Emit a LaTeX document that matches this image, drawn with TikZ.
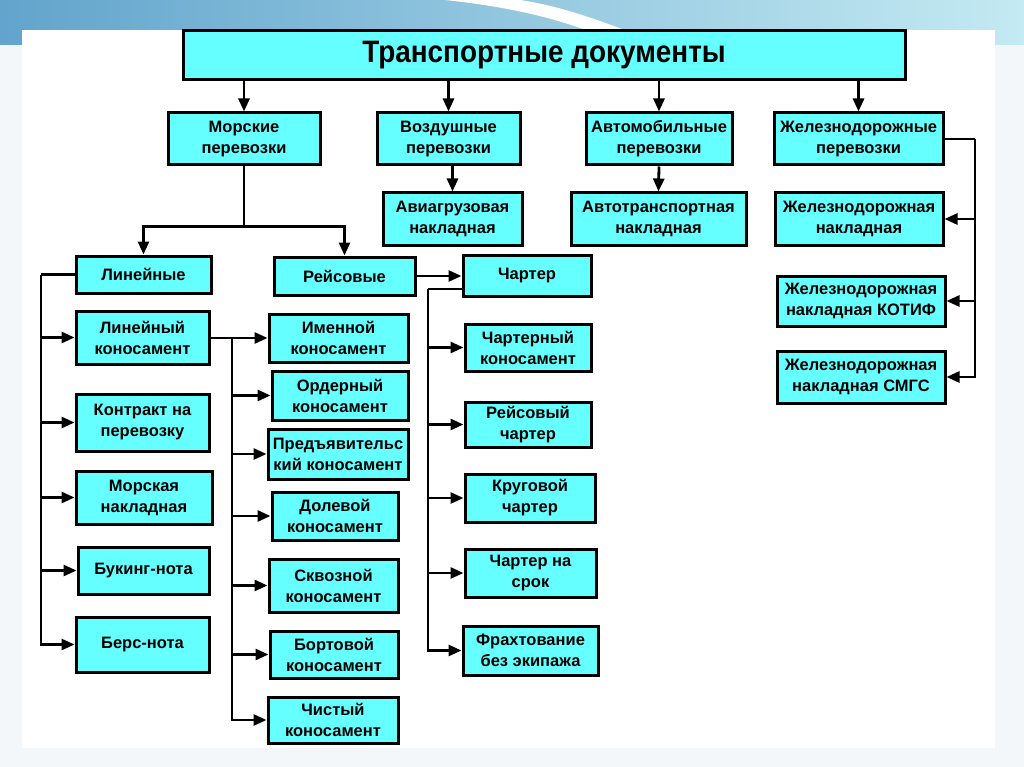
\documentclass[tikz,border=0pt]{standalone}
\usepackage{graphicx}
\usepackage{fontspec}
\setmainfont{Liberation Sans}
\usetikzlibrary{arrows.meta}
\definecolor{boxcyan}{RGB}{102,255,255}
\definecolor{slideblue}{RGB}{98,164,204}
\definecolor{slidelight}{RGB}{196,234,242}
\definecolor{slidebg}{RGB}{244,247,249}
\newcommand{\docbox}[6]{\node[doc, minimum width=#4pt, minimum height=#5pt] (#1) at (#2,#3) {#6};}

\begin{document}
\begin{tikzpicture}[x=1pt, y=-1pt,
  doc/.style={draw, line width=3pt, fill=boxcyan, align=center, inner sep=0pt,
    font=\bfseries\fontsize{16.5}{21}\selectfont},
  arr/.style={line width=2.8pt, -{Triangle[length=13pt, width=11pt]}},
  line/.style={line width=2.8pt}]
\useasboundingbox (0,0) rectangle (1024,767);
% slide
\fill[slidebg] (0,0) rectangle (1024,767);
\shade[left color=slideblue, right color=slidelight] (0,0) rectangle (1024,45);
\fill[white] (445,0) .. controls (520,8) and (570,22) .. (610,40) -- (650,40) .. controls (600,20) and (560,6) .. (520,0) -- cycle;
\fill[white] (22,30) rectangle (995,748);

% top
\docbox{title}{544}{55.5}{722}{49}{\fontsize{31}{36}\selectfont\raisebox{-2pt}{\scalebox{0.9}[1]{Транспортные документы}}}
\docbox{sea}{244}{139}{152}{52}{Морские\\перевозки}
\docbox{air}{448.5}{139}{143}{52}{Воздушные\\перевозки}
\docbox{auto}{659}{139}{146}{52}{Автомобильные\\перевозки}
\docbox{rail}{858.5}{139}{169}{52}{Железнодорожные\\перевозки}
\foreach \n in {sea,air,auto,rail}
  \draw[arr] (title.south -| \n.north) -- (\n.north);

\docbox{airbill}{452.5}{219}{139}{52}{Авиагрузовая\\накладная}
\docbox{autobill}{658.5}{219}{175}{52}{Автотранспортная\\накладная}
\docbox{railbill}{859}{219}{168}{52}{Железнодорожная\\накладная}
\docbox{kotif}{861}{301}{168}{50}{Железнодорожная\\накладная КОТИФ}
\docbox{smgs}{861}{377}{168}{52}{Железнодорожная\\накладная СМГС}
\draw[arr] (air.south -| airbill.north) -- (airbill.north);
\draw[arr] (auto.south) -- (autobill.north);
\coordinate (rsp) at (975,139);
\draw[line] (rail.east) -- (rsp);
\draw[arr] (rsp) |- (smgs.east);
\foreach \n in {railbill,kotif}
  \draw[arr] (rsp |- \n.east) -- (\n.east);

% sea
\docbox{lin}{143.5}{274.5}{135}{37}{Линейные}
\docbox{reis}{344.5}{276}{141}{38}{Рейсовые}
\docbox{charter}{527}{275.5}{128}{41}{Чартер}
\draw[arr] (sea.south) -- ++(0,60) -| (lin.north);
\draw[arr] (sea.south) -- ++(0,60) -| (reis.north);
\draw[arr] (reis.east) -- (reis.east -| charter.west);

\docbox{linbl}{142.5}{337.5}{133}{53}{Линейный\\коносамент}
\docbox{contract}{142.5}{422.5}{133}{57}{Контракт на\\перевозку}
\docbox{seabill}{144}{497.5}{136}{53}{Морская\\накладная}
\docbox{booking}{143.5}{570.5}{131}{47}{Букинг-нота}
\docbox{berth}{142.5}{644.5}{133}{55}{Берс-нота}
\coordinate (lsp) at (41,274.5);
\draw[line] (lin.west) -- (lsp);
\draw[arr] (lsp) |- (berth.west);
\foreach \n in {linbl,contract,seabill,booking}
  \draw[arr] (lsp |- \n.west) -- (\n.west);

\docbox{named}{338.5}{338}{139}{48}{Именной\\коносамент}
\docbox{order}{340}{395.5}{136}{49}{Ордерный\\коносамент}
\docbox{bearer}{338}{454}{140}{50}{Предъявительс\\кий коносамент}
\docbox{share}{335}{516}{126}{48}{Долевой\\коносамент}
\docbox{through}{333.5}{585.5}{129}{53}{Сквозной\\коносамент}
\docbox{board}{334}{654.5}{128}{47}{Бортовой\\коносамент}
\docbox{clean}{333}{720}{130}{46}{Чистый\\коносамент}
\coordinate (ksp) at (232,338);
\draw[arr] (linbl.east |- named.west) -- (named.west);
\draw[arr] (ksp) |- (clean.west);
\foreach \n in {order,bearer,share,through,board}
  \draw[arr] (ksp |- \n.west) -- (\n.west);

\docbox{chbl}{528}{347.5}{126}{47}{Чартерный\\коносамент}
\docbox{voyage}{528}{424.5}{126}{45}{Рейсовый\\чартер}
\docbox{round}{530}{498}{130}{48}{Круговой\\чартер}
\docbox{time}{530.5}{573}{131}{48}{Чартер на\\срок}
\docbox{bare}{530.5}{650.5}{135}{49}{Фрахтование\\без экипажа}
\coordinate (csp) at (428,289);
\draw[line] ([yshift=-13.5pt]charter.west) -- (csp);
\draw[arr] (csp) |- (bare.west);
\foreach \n in {chbl,voyage,round,time}
  \draw[arr] (csp |- \n.west) -- (\n.west);
\end{tikzpicture}
\end{document}
